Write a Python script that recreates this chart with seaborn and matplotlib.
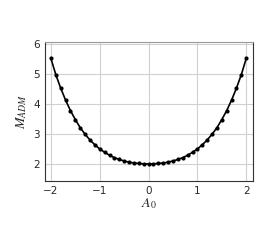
"""Recreate the M_ADM vs A_0 curve"""

import matplotlib
matplotlib.use("Agg")
import matplotlib.pyplot as plt
import pandas as pd
import seaborn as sns

A0 = [-2.0, -1.9, -1.8, -1.7, -1.6, -1.5, -1.4, -1.3, -1.2, -1.1, -1.0,
      -0.9, -0.8, -0.7, -0.6, -0.5, -0.4, -0.3, -0.2, -0.1, 0.0,
      0.1, 0.2, 0.3, 0.4, 0.5, 0.6, 0.7, 0.8, 0.9, 1.0,
      1.1, 1.2, 1.3, 1.4, 1.5, 1.6, 1.7, 1.8, 1.9, 2.0]
M_ADM = [5.52, 4.98, 4.53, 4.13, 3.78, 3.48, 3.21, 2.99, 2.80, 2.64, 2.50,
         2.39, 2.29, 2.21, 2.15, 2.10, 2.06, 2.03, 2.02, 2.00, 2.00,
         2.00, 2.02, 2.03, 2.06, 2.10, 2.15, 2.21, 2.29, 2.39, 2.50,
         2.64, 2.80, 2.99, 3.21, 3.48, 3.78, 4.13, 4.53, 4.98, 5.52]
X_TICKS = [-2, -1, 0, 1, 2]
Y_TICKS = [2, 3, 4, 5, 6]

sns.set_style("whitegrid", {"grid.color": "#d0d0d0", "axes.edgecolor": "#333333"})
plt.rcParams["font.family"] = ["DejaVu Sans"]
plt.rcParams["mathtext.fontset"] = "stix"

df = pd.DataFrame({"A0": A0, "M": M_ADM})

fig = plt.figure(figsize=(2.73, 2.45), dpi=100)
ax = fig.add_axes([0.165, 0.261, 0.762, 0.568])

sns.lineplot(data=df, x="A0", y="M", ax=ax, color="black", linewidth=1.2,
             marker="o", markersize=3, markeredgewidth=0)

ax.set_xlim(-2.12, 2.14)
ax.set_ylim(1.43, 6.07)
ax.set_xticks(X_TICKS)
ax.set_yticks(Y_TICKS)
ax.tick_params(labelsize=7.5, length=2, pad=1.5)
ax.set_xlabel(r"$A_0$", fontsize=10, labelpad=0)
ax.set_ylabel(r"$M_{ADM}$", fontsize=10, labelpad=3)
for side in ["left", "bottom", "right", "top"]:
    ax.spines[side].set_linewidth(0.8)
ax.spines["top"].set_color("#999999")

fig.savefig("out.png", dpi=100)
